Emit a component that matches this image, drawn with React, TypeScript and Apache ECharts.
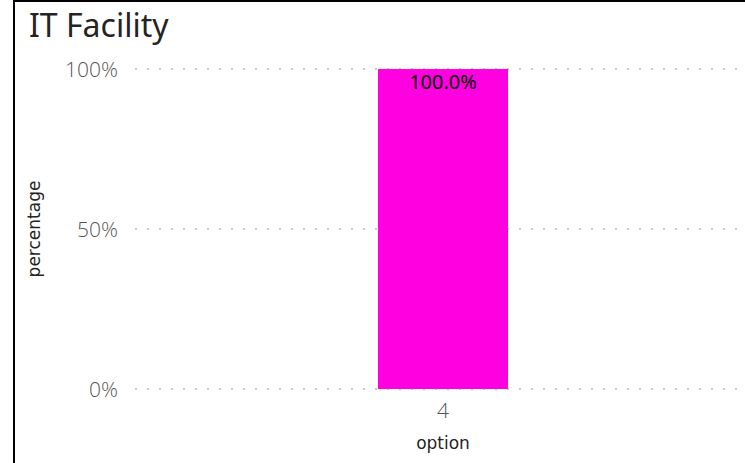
import React, { useEffect, useRef } from "react";
import * as echarts from "echarts";

const categories = ["4"];
const values = [1.0];
const yTicks = [0, 0.5, 1];

export default function App() {
  const ref = useRef<HTMLDivElement>(null);
  useEffect(() => {
    if (!ref.current) return;
    const chart = echarts.init(ref.current, undefined, { renderer: "svg" });
    const font = "'Noto Sans', 'Open Sans', sans-serif";
    const light = "'Open Sans', 'Noto Sans', sans-serif";
    const nameFont = "'DejaVu Sans', sans-serif";
    chart.setOption({
      animation: false,
      title: {
        text: "IT Facility",
        left: 24,
        top: 3,
        textStyle: { fontFamily: font, fontSize: 32, fontWeight: "normal", color: "#252423" },
      },
      grid: { left: 135, right: 0, top: 69, bottom: 74 },
      xAxis: {
        type: "category",
        data: categories,
        name: "option",
        nameLocation: "middle",
        nameGap: 45,
        nameTextStyle: { fontFamily: nameFont, fontSize: 17, color: "#252423" },
        axisLine: { show: false },
        axisTick: { show: false },
        axisLabel: { fontFamily: light, fontSize: 21, fontWeight: 300, color: "#555555", margin: 10 },
      },
      yAxis: {
        type: "value",
        min: yTicks[0],
        max: yTicks[yTicks.length - 1],
        interval: yTicks[1] - yTicks[0],
        name: "percentage",
        nameLocation: "middle",
        nameGap: 93,
        nameTextStyle: { fontFamily: nameFont, fontSize: 17, color: "#252423" },
        axisLabel: {
          fontFamily: light,
          fontSize: 21,
          fontWeight: 300,
          color: "#555555",
          margin: 17,
          formatter: (v: number) => `${Math.round(v * 100)}%`,
        },
        splitLine: { lineStyle: { color: "#c8c8c8", width: 2, type: [2, 10] } },
      },
      series: [
        {
          type: "bar",
          data: values,
          barWidth: 130,
          itemStyle: { color: "#FF00E0" },
          label: {
            show: true,
            position: "insideTop",
            distance: 2,
            fontFamily: font,
            fontSize: 20,
            color: "#000000",
            formatter: (p: any) => `${(p.value * 100).toFixed(1)}%`,
          },
        },
      ],
    });
    return () => chart.dispose();
  }, []);
  return (
    <div style={{ position: "fixed", left: 0, top: 0, width: 745, height: 463, background: "#fff", overflow: "hidden" }}>
      <div ref={ref} style={{ position: "absolute", left: 0, top: 0, width: 751, height: 463 }} />
      <div
        style={{
          position: "absolute",
          left: 13,
          top: 0,
          width: 800,
          height: 500,
          borderLeft: "2px solid #000",
          borderTop: "2px solid #000",
          pointerEvents: "none",
        }}
      />
    </div>
  );
}
